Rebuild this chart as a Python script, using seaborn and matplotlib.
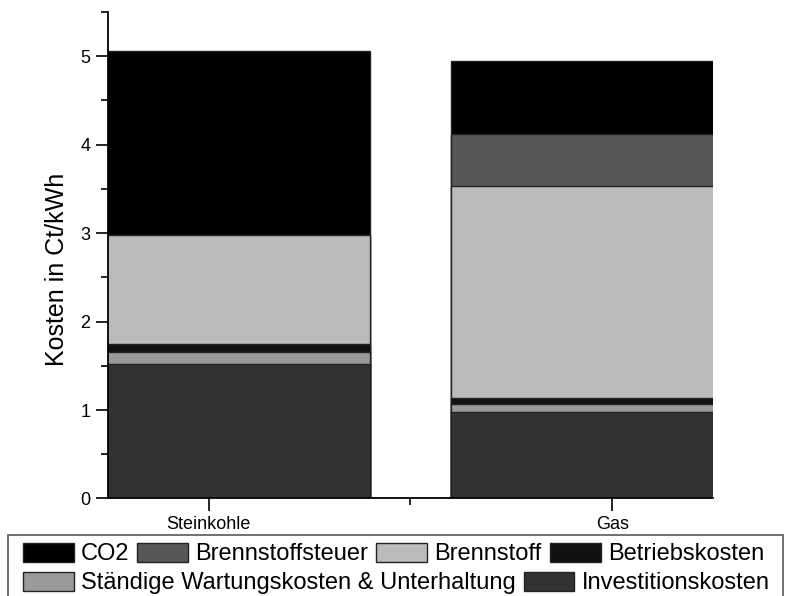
import numpy as np
import pandas as pd
import seaborn as sns
import matplotlib.pyplot as plt
from matplotlib.patches import Patch, Rectangle
from matplotlib.ticker import MultipleLocator

# data (Ct/kWh)
kategorien = ["Steinkohle", "Gas"]
investition = [1.52, 0.98]
wartung = [0.14, 0.09]
betrieb = [0.09, 0.07]
brennstoff = [1.23, 2.39]
steuer = [0.0, 0.59]
co2 = [2.08, 0.83]

labels = ["Investitionskosten", "Ständige Wartungskosten & Unterhaltung",
          "Betriebskosten", "Brennstoff", "Brennstoffsteuer", "CO2"]
farben = ["#333333", "#9a9a9a", "#111111", "#bbbbbb", "#575757", "#000000"]

df = pd.DataFrame({"Kategorie": kategorien, labels[0]: investition,
                   labels[1]: wartung, labels[2]: betrieb, labels[3]: brennstoff,
                   labels[4]: steuer, labels[5]: co2})
cum = df[labels].cumsum(axis=1)

sns.set_style("ticks")
plt.rcParams["font.family"] = ["Liberation Sans", "DejaVu Sans"]
plt.rcParams.update({"text.color": "black", "axes.labelcolor": "black",
                     "xtick.color": "black", "ytick.color": "black"})

fig = plt.figure(figsize=(7.87, 5.96), dpi=100)
ax = fig.add_axes([0.137, 0.1636, 0.769, 0.8164])

# stacked bars: draw cumulative totals from top layer down
for lab, col in reversed(list(zip(labels, farben))):
    sns.barplot(x=df["Kategorie"], y=cum[lab], color=col, width=0.8,
                edgecolor="#222222", linewidth=1.0, saturation=1, ax=ax)

ax.set_xlim(-0.25, 1.25)
ax.set_ylim(0, 5.5)
ax.set_xlabel("")
ax.set_ylabel("Kosten in Ct/kWh", fontsize=18)
ax.yaxis.set_label_coords(-0.064, 0.47)
ax.yaxis.set_major_locator(MultipleLocator(1))
ax.yaxis.set_minor_locator(MultipleLocator(0.5))
ax.xaxis.set_minor_locator(MultipleLocator(0.5))
ax.tick_params(axis="both", which="major", length=9, width=1.2, labelsize=13, color="black")
ax.tick_params(axis="both", which="minor", length=5, width=1.2, color="black")
ax.tick_params(axis="x", which="minor", bottom=True)
sns.despine(ax=ax)
for s in ["left", "bottom"]:
    ax.spines[s].set_linewidth(1.3)
    ax.spines[s].set_color("black")

def h(i):
    return Patch(facecolor=farben[i], edgecolor="#222222", linewidth=1.0, label=labels[i])

leg_kw = dict(frameon=False, fontsize=17, handlelength=2.15, handleheight=0.85,
              handletextpad=0.3, columnspacing=0.35, borderpad=0.0, borderaxespad=0.0,
              loc="center left")
leg1 = fig.legend(handles=[h(5), h(4), h(3), h(2)], ncol=4,
                  bbox_to_anchor=(0.029, 1 - 554 / 596), **leg_kw)
leg2 = fig.legend(handles=[h(1), h(0)], ncol=2,
                  bbox_to_anchor=(0.029, 1 - 583 / 596), **leg_kw)
fig.add_artist(Rectangle((8 / 787, -0.01), 775 / 787, 1 - 535 / 596 + 0.01,
                         transform=fig.transFigure, fill=False,
                         edgecolor="#666666", linewidth=1.3))

plt.savefig("out.png", dpi=100)
